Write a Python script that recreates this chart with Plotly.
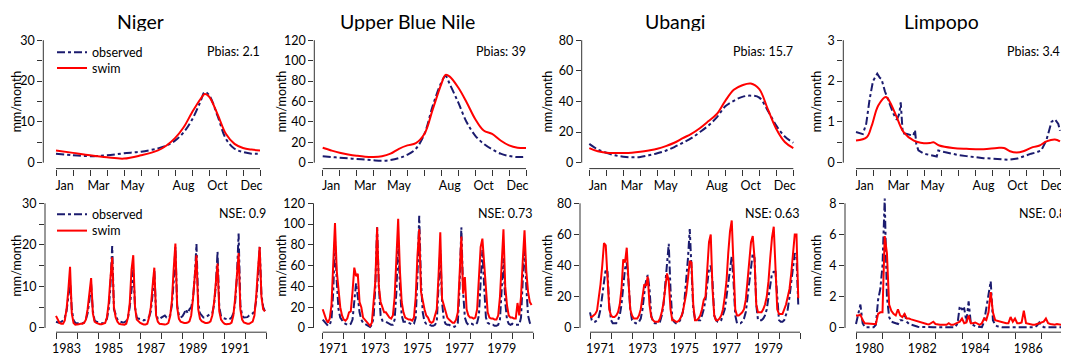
import plotly.graph_objects as go

W, H = 1069, 357          # target page size
OFF = 8                   # default page body margin
FW, FH = W - OFF, H - OFF  # figure size
FONT = "Lato, Carlito, Calibri, sans-serif"
NAVY = "#1b1b6e"
RED = "#ff0000"
AXC = "#333333"

# ---------------- data ----------------
basins = ["Niger", "Upper Blue Nile", "Ubangi", "Limpopo"]
pbias = ["Pbias: 2.1", "Pbias: 39", "Pbias: 15.7", "Pbias: 3.4"]
nse = ["NSE: 0.9", "NSE: 0.73", "NSE: 0.63", "NSE: 0.8"]

month_names = ["Jan", "Feb", "Mar", "Apr", "May", "Jun", "Jul", "Aug", "Sep", "Oct", "Nov", "Dec"]
month_labels = ["Jan", "Mar", "May", "Aug", "Oct", "Dec"]

# mean seasonal cycle (x in months since 1 Jan)
niger_clim_x = [0, 1, 2, 3, 4, 5, 6, 6.5, 7, 7.5, 8, 8.5, 8.75, 9, 9.5, 10, 10.5, 11, 11.5, 12]
niger_clim_obs = [2.2, 1.8, 1.6, 1.8, 2.3, 2.7, 3.5, 4.2, 5.4, 7.4, 10.5, 15.0, 17.3, 16.6, 11.5, 5.8, 3.4, 2.6, 2.2, 2.2]
niger_clim_swim = [3.0, 2.4, 1.8, 1.3, 1.0, 1.8, 3.0, 4.2, 6.0, 8.6, 12.3, 15.6, 16.8, 16.2, 11.9, 7.0, 4.6, 3.6, 3.2, 3.0]

ubn_clim_x = [0, 0.5, 1, 1.5, 2, 2.5, 3, 3.5, 4, 4.5, 5, 5.5, 6, 6.5, 7, 7.25, 7.5, 8, 8.5, 9, 9.5, 10, 10.5, 11, 11.5, 12]
ubn_clim_obs = [6.2, 5.5, 4.9, 4.2, 3.6, 3.0, 2.3, 1.9, 2.6, 4.5, 7.8, 13.6, 28, 56, 78.5, 85, 77, 59, 39.6, 26.6, 18.5, 13, 8.8, 6.5, 5.5, 5.8]
ubn_clim_swim = [14.6, 12, 9.7, 8.1, 6.8, 5.8, 5.5, 6.2, 8.8, 13.6, 16.9, 19.1, 28, 52.5, 77, 86, 84.3, 73.6, 59, 42.8, 31.5, 28.2, 21.7, 16.9, 14.6, 14.3]

ubangi_clim_x = [0, 0.5, 1, 1.5, 2, 2.5, 3, 3.5, 4, 4.5, 5, 5.5, 6, 6.5, 7, 7.5, 8, 8.5, 9, 9.5, 10, 10.5, 11, 11.5, 12]
ubangi_clim_obs = [12.3, 8.6, 6.5, 4.8, 3.9, 3.5, 3.7, 4.8, 6.1, 7.8, 10.2, 13, 16, 19.9, 24.2, 29.6, 36.8, 40.4, 43, 43.8, 42.5, 34, 24.2, 17.1, 13]
ubangi_clim_swim = [9.5, 7.4, 6.5, 6.3, 6.3, 6.5, 7.1, 8.0, 9.1, 10.8, 13, 16, 18.8, 22.5, 27, 31.8, 40.4, 47.6, 50.6, 51.7, 48, 35, 22, 13.5, 9.5]

limpopo_clim_obs_x = [0, 0.2, 0.4, 0.6, 0.8, 1.0, 1.25, 1.4, 1.5, 1.7, 2.0, 2.2, 2.4, 2.55, 2.63, 2.75, 3.0,
                      3.37, 3.47, 3.55, 3.67, 4.0, 4.75, 4.84, 5.2, 5.6, 6.0, 6.5, 7.0, 7.5, 8.0, 8.5, 9.0,
                      9.5, 10.0, 10.3, 10.6, 10.9, 11.2, 11.5, 11.7, 11.9, 12.0]
limpopo_clim_obs = [0.75, 0.72, 0.7, 0.95, 1.55, 2.0, 2.18, 2.08, 2.05, 1.75, 1.4, 1.2, 1.05, 1.2, 1.48, 0.72, 0.7,
                    0.66, 0.8, 0.45, 0.3, 0.22, 0.15, 0.3, 0.26, 0.22, 0.19, 0.16, 0.13, 0.11, 0.1, 0.08, 0.07,
                    0.1, 0.18, 0.22, 0.25, 0.3, 0.55, 1.0, 1.06, 0.95, 0.78]
limpopo_clim_swim_x = [0, 0.63, 0.92, 1.31, 1.76, 2.0, 2.4, 2.8, 3.4, 3.8, 4.35, 4.55, 4.9, 5.7, 6.5, 7.5, 8.3,
                       8.7, 9.06, 9.45, 9.84, 10.4, 10.8, 11.2, 11.7, 12]
limpopo_clim_swim = [0.54, 0.62, 0.9, 1.4, 1.61, 1.48, 1.11, 0.75, 0.54, 0.49, 0.48, 0.5, 0.42, 0.36, 0.34, 0.33,
                     0.36, 0.36, 0.28, 0.25, 0.28, 0.38, 0.42, 0.52, 0.57, 0.52]

# monthly series
niger_start, niger_years = 1983, 10
niger_obs = [1.5, 1.3, 1.2, 1.5, 1.8, 2.5, 4.0, 7.5, 11.1, 4.5, 1.8, 1.2,
             1.1, 1.0, 1.0, 1.1, 1.3, 2.0, 3.5, 6.5, 10.5, 4.0, 1.8, 1.5,
             1.4, 1.2, 1.1, 1.2, 1.5, 2.2, 4.5, 10.0, 19.7, 4.5, 3.0, 2.0,
             1.6, 1.4, 1.3, 1.4, 1.6, 2.5, 5.0, 9.0, 14.0, 5.0, 2.5, 2.2,
             2.2, 2.0, 1.8, 2.0, 2.2, 2.6, 4.0, 8.0, 14.0, 3.5, 2.2, 2.0,
             2.5, 2.8, 3.0, 2.5, 2.4, 3.0, 5.5, 11.0, 19.5, 5.5, 3.0, 2.5,
             2.8, 3.5, 4.5, 3.5, 4.5, 5.0, 7.0, 12.0, 20.2, 6.0, 3.5, 3.0,
             2.5, 2.5, 2.8, 3.2, 3.4, 3.5, 5.5, 10.0, 18.3, 5.0, 2.8, 2.4,
             2.2, 2.0, 2.0, 2.2, 2.5, 3.5, 6.0, 12.0, 22.7, 5.5, 3.0, 2.5,
             2.5, 2.6, 3.0, 3.2, 3.5, 4.0, 6.5, 12.0, 19.5, 8.0, 5.0, 4.0]
niger_swim = [2.9, 2.0, 1.2, 1.0, 1.0, 1.8, 4.5, 9.0, 14.7, 3.5, 1.2, 0.8,
              0.8, 0.9, 1.0, 1.0, 1.2, 2.0, 4.5, 8.5, 12.0, 3.5, 1.5, 1.2,
              1.0, 0.9, 0.9, 1.0, 1.2, 2.5, 6.0, 12.0, 17.0, 5.0, 2.5, 1.5,
              1.0, 0.9, 0.8, 0.8, 1.0, 2.5, 6.0, 14.0, 17.5, 5.0, 2.0, 1.5,
              1.2, 1.0, 0.8, 0.8, 1.0, 2.5, 5.0, 10.0, 14.5, 3.0, 1.5, 1.0,
              0.9, 0.8, 0.8, 0.9, 1.2, 2.8, 6.5, 14.0, 20.3, 5.0, 2.2, 1.5,
              1.3, 1.2, 1.2, 1.3, 1.6, 3.0, 7.0, 13.0, 17.5, 4.5, 2.2, 1.6,
              1.3, 1.2, 1.2, 1.3, 1.6, 3.0, 6.0, 11.0, 15.5, 4.0, 2.0, 1.4,
              1.0, 0.9, 0.9, 1.0, 1.3, 3.0, 7.0, 13.0, 18.0, 4.5, 2.0, 1.3,
              1.1, 1.0, 1.0, 1.2, 1.5, 3.0, 7.5, 14.0, 19.5, 7.5, 4.5, 4.0]

ubn_start, ubn_years = 1971, 10
ubn_obs = [8, 6, 4, 2, 3, 8, 35, 85, 45, 18, 10, 7,
           5, 4, 3, 3, 4, 8, 25, 43, 30, 15, 8, 5,
           4, 3, 2, 1, 3, 10, 40, 97, 40, 12, 7, 7,
           6, 5, 4, 3, 3, 8, 35, 85, 40, 12, 6, 6,
           6, 5, 4, 3, 4, 10, 50, 108, 45, 15, 6, 4,
           4, 3, 2, 2, 3, 6, 40, 75, 25, 8, 4, 3,
           3, 2, 2, 1, 2, 5, 40, 97, 35, 10, 5, 3,
           4, 4, 3, 3, 5, 12, 45, 75, 40, 10, 5, 4,
           3, 3, 2, 2, 3, 8, 40, 67, 25, 8, 4, 3,
           4, 3, 3, 3, 3, 10, 45, 82, 40, 12, 5, 2]
ubn_swim = [18, 12, 8, 5, 9, 22, 60, 101, 55, 35, 20, 12,
            8, 7, 9, 15, 16, 35, 58, 50, 52, 25, 20, 10,
            8, 5, 3, 2, 5, 25, 45, 97, 40, 25, 20, 15,
            15, 12, 10, 9, 12, 30, 70, 105, 55, 25, 15, 10,
            9, 8, 8, 7, 10, 30, 70, 95, 35, 25, 18, 12,
            10, 6, 5, 6, 12, 18, 50, 92, 28, 22, 14, 10,
            8, 6, 5, 5, 8, 15, 55, 88, 33, 49, 18, 12,
            10, 10, 9, 10, 18, 45, 78, 86, 62, 30, 15, 10,
            9, 9, 8, 8, 12, 30, 65, 95, 40, 22, 12, 10,
            10, 9, 9, 24, 12, 30, 65, 94, 55, 35, 25, 22]

ubangi_start, ubangi_years = 1971, 10
ubangi_obs = [10, 5, 4, 4, 5, 7, 12, 22, 32, 38, 36, 15,
              5, 3, 3, 3, 5, 8, 15, 28, 38, 42, 30, 12,
              5, 4, 3, 3, 4, 6, 12, 22, 30, 34, 25, 8,
              4, 3, 3, 3, 4, 8, 15, 30, 45, 54, 25, 6,
              4, 3, 3, 4, 6, 10, 18, 30, 45, 63.5, 40, 12,
              6, 5, 5, 5, 8, 12, 18, 28, 38, 40, 30, 8,
              5, 4, 4, 5, 8, 12, 20, 30, 40, 46, 30, 8,
              3, 3, 3, 4, 6, 10, 20, 30, 40, 48, 45, 15,
              5, 5, 5, 6, 8, 12, 20, 30, 35, 36, 36, 20,
              5, 4, 4, 5, 8, 12, 20, 30, 40, 48, 45, 15]
ubangi_swim = [7, 7, 8, 9, 11, 18, 28, 40, 54.5, 53, 35, 12,
               8, 7, 7, 8, 10, 15, 25, 44, 42, 51.5, 30, 12,
               8, 6, 6, 6, 8, 12, 20, 28, 27, 33, 15, 7,
               5, 4, 4, 4, 6, 10, 16, 24, 35, 30, 12, 5,
               5, 4, 4, 5, 7, 10, 15, 22, 32, 43, 42, 15,
               5, 5, 6, 8, 12, 18, 20, 35, 55, 60, 25, 8,
               5, 5, 6, 8, 12, 20, 30, 48, 62, 69, 40, 12,
               8, 8, 9, 10, 12, 18, 30, 45, 55, 59, 45, 15,
               10, 10, 10, 12, 15, 20, 30, 45, 58, 65, 35, 12,
               9, 9, 9, 12, 15, 20, 25, 35, 50, 60, 60, 19]

limpopo_start, limpopo_years = 1980, 8
limpopo_obs = [0.25, 0.8, 1.5, 0.3, 0.05, 0.05, 0.05, 0.05, 0.05, 0.2, 1.8, 2.5,
               4.0, 8.3, 2.0, 0.7, 0.4, 0.35, 0.3, 0.25, 0.5, 0.5, 0.9, 0.4,
               0.25, 0.2, 0.15, 0.1, 0.08, 0.06, 0.05, 0.05, 0.05, 0.05, 0.05, 0.05,
               0.05, 0.05, 0.05, 0.05, 0.05, 0.05, 0.05, 0.05, 0.05, 0.05, 0.3, 1.4,
               1.2, 1.25, 0.4, 1.7, 0.3, 0.2, 0.1, 0.08, 0.05, 0.05, 0.4, 1.2,
               2.0, 3.0, 0.5, 0.2, 0.1, 0.05, 0.05, 0.05, 0.05, 0.05, 0.05, 0.05,
               0.05, 0.05, 0.05, 0.05, 0.05, 0.05, 0.05, 0.05, 0.05, 0.05, 0.15, 0.35,
               0.15, 0.05, 0.05, 0.05, 0.05, 0.05, 0.05, 0.05, 0.05, 0.05, 0.05, 0.05]
limpopo_swim = [0.8, 0.8, 0.85, 0.5, 0.3, 0.28, 0.26, 0.25, 0.25, 0.25, 0.9, 1.0,
                1.0, 5.9, 4.8, 1.5, 1.1, 0.9, 0.8, 1.2, 0.8, 0.7, 0.9, 0.6,
                0.6, 0.55, 0.5, 0.45, 0.4, 0.35, 0.3, 0.28, 0.25, 0.22, 0.3, 0.4,
                0.25, 0.2, 0.2, 0.2, 0.2, 0.2, 0.3, 0.2, 0.2, 0.25, 0.35, 0.4,
                0.6, 0.3, 0.35, 0.8, 0.3, 0.3, 0.35, 0.25, 0.2, 0.3, 0.6, 0.5,
                1.0, 2.3, 1.0, 0.5, 0.45, 0.4, 0.35, 0.3, 0.3, 0.3, 0.7, 0.4,
                0.6, 0.3, 0.3, 0.35, 1.1, 0.3, 0.25, 0.2, 0.2, 0.2, 0.25, 0.3,
                0.3, 0.4, 0.6, 0.3, 0.25, 0.2, 0.2, 0.25, 0.2, 0.2, 0.25, 0.75]

niger_year_labels = [1983, 1985, 1987, 1989, 1991]
ubn_year_labels = [1971, 1973, 1975, 1977, 1979]
ubangi_year_labels = [1971, 1973, 1975, 1977, 1979]
limpopo_year_labels = [1980, 1982, 1984, 1986]

# y-axis ticks: (max, tick step, label step)
top_yticks = [(30, 5, 10), (120, 20, 20), (80, 20, 20), (3, 0.5, 1)]
bot_yticks = [(30, 5, 10), (120, 20, 20), (80, 20, 20), (8, 2, 2)]

# ---------------- layout geometry (pixels on the page) ----------------
top_tick_px = [(56, 260), (322.7, 526), (589.3, 793.3), (856, 1060)]
bot_tick_px = [(56, 266.7), (322.7, 533.3), (590, 800), (856, 1068)]
top_yaxis_px = [43.3, 314.3, 581.7, 843.3]
bot_yaxis_px = [45, 313.5, 580, 845]
# (py of 0, py of ymax, py of x-axis line, py of plot top)
ROW_Y = [(164, 40.5, 170, 28), (330.7, 205, 335, 190)]
title_px = [140, 407.7, 675, 941.7]
ylab_px = [16.8, 281.8, 547.8, 816.8]
# legend entry centres (py) per row: observed, swim
LEG_Y = [(52.3, 68.3), (215.7, 232.3)]


def fx(p):
    return (p - OFF) / FW


def fy(p):
    return 1 - (p - OFF) / FH


clim = [
    (niger_clim_x, niger_clim_obs, niger_clim_x, niger_clim_swim, "spline"),
    (ubn_clim_x, ubn_clim_obs, ubn_clim_x, ubn_clim_swim, "spline"),
    (ubangi_clim_x, ubangi_clim_obs, ubangi_clim_x, ubangi_clim_swim, "spline"),
    (limpopo_clim_obs_x, limpopo_clim_obs, limpopo_clim_swim_x, limpopo_clim_swim, "linear"),
]
series = [
    (niger_start, niger_years, niger_obs, niger_swim, niger_year_labels),
    (ubn_start, ubn_years, ubn_obs, ubn_swim, ubn_year_labels),
    (ubangi_start, ubangi_years, ubangi_obs, ubangi_swim, ubangi_year_labels),
    (limpopo_start, limpopo_years, limpopo_obs, limpopo_swim, limpopo_year_labels),
]

fig = go.Figure()
layout = {}
shapes = []
annotations = []
tickfont = dict(family=FONT, size=12.5, color="#000")


def add_panel(k, row, col, x_obs, y_obs, x_swim, y_swim, obs_shape, swim_shape,
              tick_px, tick_val, yaxis_px, ytick, xtickvals, xticktext, stat):
    n = "" if k == 0 else str(k + 1)
    p0, p1 = tick_px
    v0, v1 = tick_val
    dl = yaxis_px
    dr = min(p1 + 7, W)
    s = (v1 - v0) / (p1 - p0)
    xr = [v0 - (p0 - dl) * s, v1 + (dr - p1) * s]
    zero_py, max_py, axis_py, top_py = ROW_Y[row]
    ymax, ystep, lstep = ytick
    sy = ymax / (zero_py - max_py)
    yr = [-(axis_py - zero_py) * sy, ymax + (max_py - top_py) * sy]

    nt = int(round(ymax / ystep))
    yvals = [round(i * ystep, 6) for i in range(nt + 1)]
    ytext = []
    for v in yvals:
        if abs(v / lstep - round(v / lstep)) < 1e-6:
            ytext.append(("%g" % v))
        else:
            ytext.append("")

    layout["xaxis" + n] = dict(
        domain=[fx(dl), min(fx(dr), 1.0)], range=xr, anchor="y" + n,
        showline=False, showgrid=False, zeroline=False,
        tickmode="array", tickvals=xtickvals, ticktext=xticktext,
        ticks="outside", ticklen=5, tickcolor="rgba(0,0,0,0)",
        minor=dict(tickmode="linear", tick0=v0, dtick=1, ticks="outside",
                   ticklen=6, tickwidth=1, tickcolor=AXC, showgrid=False),
        tickfont=tickfont, fixedrange=True,
    )
    layout["yaxis" + n] = dict(
        domain=[fy(axis_py), fy(top_py)], range=yr, anchor="x" + n,
        showline=False, showgrid=False, zeroline=False,
        tickmode="array", tickvals=yvals, ticktext=ytext,
        ticks="outside", ticklen=5, tickwidth=1, tickcolor=AXC,
        tickfont=tickfont, fixedrange=True,
    )
    shapes.append(dict(type="line", xref="x" + n, yref="y" + n + " domain",
                       x0=v0, x1=v1, y0=0, y1=0, line=dict(color=AXC, width=1)))
    shapes.append(dict(type="line", xref="x" + n + " domain", yref="y" + n,
                       x0=0, x1=0, y0=0, y1=ymax, line=dict(color=AXC, width=1)))

    leg_obs = "legend" if row == 0 else "legend3"
    leg_swim = "legend2" if row == 0 else "legend4"
    fig.add_trace(go.Scatter(
        x=x_obs, y=y_obs, mode="lines", name="observed",
        line=dict(color=NAVY, width=2, dash="8px,3px,3px,3px", shape=obs_shape),
        xaxis="x" + n, yaxis="y" + n, showlegend=(col == 0), legend=leg_obs,
    ))
    fig.add_trace(go.Scatter(
        x=x_swim, y=y_swim, mode="lines", name="swim",
        line=dict(color=RED, width=2, shape=swim_shape),
        xaxis="x" + n, yaxis="y" + n, showlegend=(col == 0), legend=leg_swim,
    ))

    stat_py = 52 if row == 0 else 215.7
    annotations.append(dict(text=stat, x=fx(min(p1 + 1.5, W - 1.5)), y=fy(stat_py), xref="paper", yref="paper",
                            xanchor="right", yanchor="middle", showarrow=False,
                            font=dict(family=FONT, size=12.5, color="#000")))
    ylab_py = (zero_py + max_py) / 2
    annotations.append(dict(text="mm/month", x=fx(ylab_px[col]), y=fy(ylab_py), xref="paper", yref="paper",
                            xanchor="center", yanchor="middle", textangle=-90, showarrow=False,
                            font=dict(family=FONT, size=12.5, color="#000")))


for c in range(4):
    xo, yo, xs, ys, shp = clim[c]
    add_panel(c, 0, c, xo, yo, xs, ys, shp, "spline",
              top_tick_px[c], (0, 12), top_yaxis_px[c], top_yticks[c],
              [month_names.index(m) + 0.5 for m in month_labels], month_labels, pbias[c])
    annotations.append(dict(text=basins[c], x=fx(title_px[c]), y=fy(21), xref="paper", yref="paper",
                            xanchor="center", yanchor="middle", height=20, valign="middle",
                            showarrow=False, font=dict(family=FONT, size=19.5, color="#000")))

for c in range(4):
    start, nyears, obs, swim, ylabels = series[c]
    xs = [start + i / 12 for i in range(len(obs))]
    add_panel(4 + c, 1, c, xs, obs, xs, swim, "linear", "linear",
              bot_tick_px[c], (start, start + nyears), bot_yaxis_px[c], bot_yticks[c],
              [y + 0.5 for y in ylabels], [str(y) for y in ylabels], nse[c])

legend_common = dict(xanchor="left", yanchor="top", bgcolor="rgba(0,0,0,0)",
                     font=dict(family=FONT, size=12.5, color="#000"),
                     tracegroupgap=0, itemwidth=30)
LEG_DY = 14.5
layout["legend"] = dict(x=fx(52), y=fy(LEG_Y[0][0] - LEG_DY), **legend_common)
layout["legend2"] = dict(x=fx(52), y=fy(LEG_Y[0][1] - LEG_DY), **legend_common)
layout["legend3"] = dict(x=fx(52), y=fy(LEG_Y[1][0] - LEG_DY), **legend_common)
layout["legend4"] = dict(x=fx(52), y=fy(LEG_Y[1][1] - LEG_DY), **legend_common)

fig.update_layout(
    width=FW, height=FH,
    margin=dict(l=0, r=0, t=0, b=0),
    paper_bgcolor="white", plot_bgcolor="white",
    font=dict(family=FONT, color="#000"),
    shapes=shapes, annotations=annotations,
    **layout,
)

fig.write_html("out.html")
